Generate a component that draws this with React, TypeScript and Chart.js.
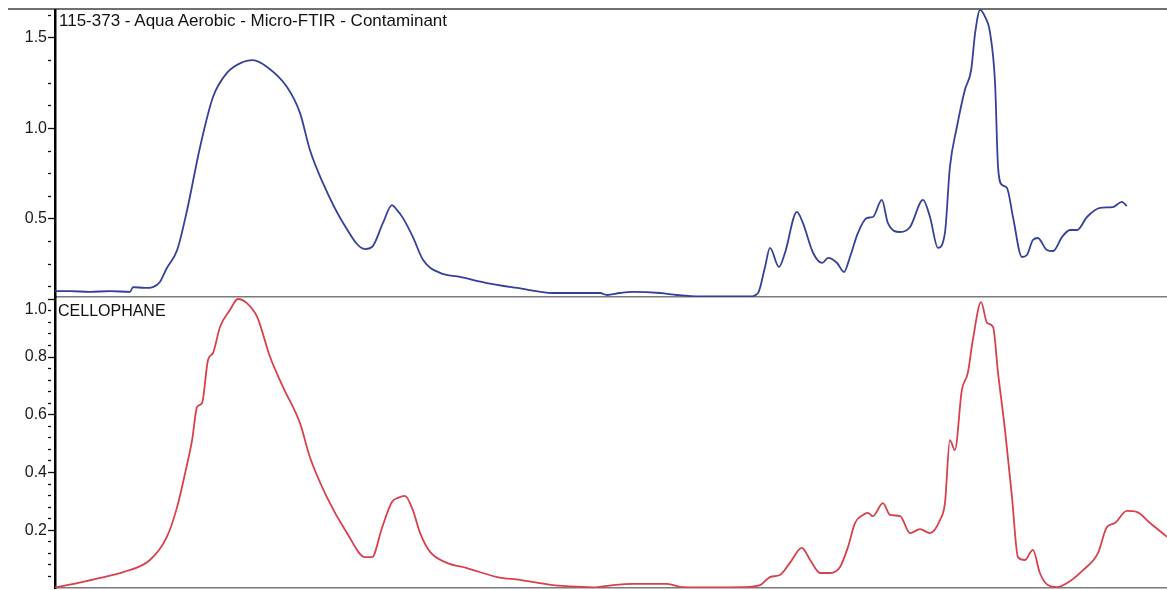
import React, { useEffect, useRef } from 'react';
import { Chart, registerables } from 'chart.js';

Chart.register(...registerables);

// ---- Data (wavenumber cm-1, absorbance) ----
const sampleTitle = '115-373 - Aqua Aerobic - Micro-FTIR - Contaminant';
const referenceTitle = 'CELLOPHANE';

const sampleWavenumbers = [
  4000, 3955, 3895, 3834, 3774, 3765, 3729, 3705, 3684, 3663,
  3632, 3602, 3563, 3524, 3482, 3434, 3404, 3361, 3301, 3262,
  3232, 3193, 3132, 3066, 3045, 3012, 2985, 2970, 2952, 2922,
  2891, 2840, 2780, 2699, 2608, 2500, 2358, 2337, 2298, 2259,
  2177, 2126, 2057, 1906, 1882, 1861, 1846, 1819, 1801, 1765,
  1747, 1716, 1689, 1671, 1644, 1623, 1605, 1581, 1554, 1536,
  1509, 1491, 1454, 1424, 1385, 1364, 1340, 1319, 1304, 1283,
  1259, 1240, 1228, 1213, 1198, 1183, 1168, 1159, 1147, 1132,
  1114, 1087, 1072, 1054, 1039, 1012, 993, 966, 942, 921,
  891, 852, 813, 786, 771,
];
const sampleAbsorbance = [
  0.102, 0.102, 0.097, 0.102, 0.097, 0.124, 0.119, 0.124, 0.152, 0.229,
  0.329, 0.550, 0.898, 1.174, 1.307, 1.367, 1.378, 1.340, 1.229, 1.086,
  0.881, 0.699, 0.478, 0.334, 0.345, 0.478, 0.577, 0.550, 0.506, 0.401,
  0.273, 0.202, 0.180, 0.146, 0.119, 0.091, 0.091, 0.080, 0.091, 0.097,
  0.091, 0.080, 0.072, 0.072, 0.091, 0.235, 0.340, 0.235, 0.312, 0.539,
  0.478, 0.312, 0.257, 0.285, 0.257, 0.207, 0.290, 0.423, 0.506, 0.511,
  0.605, 0.478, 0.428, 0.456, 0.605, 0.511, 0.340, 0.423, 0.787, 1.008,
  1.213, 1.323, 1.528, 1.655, 1.616, 1.528, 1.251, 0.787, 0.688, 0.671,
  0.511, 0.290, 0.301, 0.384, 0.395, 0.329, 0.323, 0.401, 0.439, 0.439,
  0.511, 0.561, 0.566, 0.594, 0.572,
];

const referenceWavenumbers = [
  4000, 3994, 3916, 3864, 3795, 3714, 3663, 3632, 3608, 3587,
  3572, 3557, 3539, 3524, 3503, 3473, 3449, 3422, 3391, 3352,
  3313, 3262, 3232, 3181, 3120, 3066, 3045, 3015, 2985, 2967,
  2946, 2922, 2900, 2870, 2819, 2759, 2668, 2599, 2500, 2397,
  2379, 2319, 2259, 2156, 2108, 2006, 1927, 1876, 1846, 1816,
  1786, 1750, 1725, 1695, 1665, 1635, 1611, 1590, 1566, 1551,
  1536, 1506, 1484, 1454, 1424, 1394, 1364, 1334, 1319, 1304,
  1289, 1268, 1250, 1235, 1210, 1192, 1174, 1159, 1138, 1117,
  1099, 1078, 1054, 1033, 1009, 981, 951, 903, 858, 831,
  807, 771, 740, 701, 650,
];
const referenceAbsorbance = [
  0.002, 0.003, 0.021, 0.035, 0.055, 0.097, 0.177, 0.281, 0.398, 0.512,
  0.627, 0.641, 0.790, 0.814, 0.904, 0.963, 1.001, 0.987, 0.939, 0.800,
  0.696, 0.571, 0.453, 0.315, 0.190, 0.107, 0.107, 0.208, 0.298, 0.312,
  0.319, 0.270, 0.190, 0.125, 0.087, 0.069, 0.038, 0.028, 0.010, 0.003,
  0.002, 0.010, 0.014, 0.014, 0.003, 0.002, 0.003, 0.010, 0.038, 0.045,
  0.087, 0.139, 0.097, 0.052, 0.052, 0.073, 0.142, 0.225, 0.253, 0.260,
  0.249, 0.294, 0.253, 0.249, 0.190, 0.204, 0.190, 0.235, 0.294, 0.512,
  0.478, 0.686, 0.745, 0.859, 0.990, 0.918, 0.904, 0.745, 0.547, 0.315,
  0.107, 0.097, 0.132, 0.052, 0.010, 0.003, 0.017, 0.062, 0.121, 0.211,
  0.225, 0.267, 0.263, 0.225, 0.177,
];

const sampleMajorTicks = [0.5, 1.0, 1.5];
const sampleMinorStep = 0.125;
const referenceMajorTicks = [0.2, 0.4, 0.6, 0.8, 1.0];
const referenceMinorStep = 0.04;

const FONT = '"Liberation Sans", Arial, Helvetica, sans-serif';

type PanelCfg = {
  xs: number[];
  ys: number[];
  color: string;
  yMin: number;
  yMax: number;
  majors: number[];
  minorStep: number;
  xAxisHeight: number;
  shiftTopLabel: boolean;
};

function buildTicks(min: number, max: number, step: number) {
  const out: number[] = [];
  for (let k = 1; k * step <= max + 1e-9; k++) {
    const v = Math.round(k * step * 1000) / 1000;
    if (v >= min - 1e-9) out.push(v);
  }
  return out;
}

function Panel(props: PanelCfg & { style: React.CSSProperties; width: number; height: number }) {
  const ref = useRef<HTMLCanvasElement | null>(null);
  useEffect(() => {
    if (!ref.current) return;
    const { xs, ys, color, yMin, yMax, majors, minorStep, xAxisHeight, shiftTopLabel } = props;
    const isMajor = (v: number) => majors.some((m) => Math.abs(m - v) < 1e-6);
    const topMajor = Math.max(...majors);
    const tickVals = buildTicks(yMin, yMax, minorStep);
    const chart = new Chart(ref.current, {
      type: 'line',
      data: {
        datasets: [
          {
            data: xs.map((x, i) => ({ x, y: ys[i] })),
            borderColor: color,
            borderWidth: 1.8,
            pointRadius: 0,
            fill: false,
            cubicInterpolationMode: 'monotone',
          },
        ],
      },
      options: {
        responsive: false,
        animation: false,
        events: [],
        layout: { padding: 0 },
        plugins: { legend: { display: false }, tooltip: { enabled: false }, title: { display: false } },
        scales: {
          x: {
            type: 'linear',
            reverse: true,
            min: 650,
            max: 4000,
            ticks: { display: false },
            grid: { display: false, drawTicks: false },
            border: { display: true, color: '#7a7a7a', width: 1.5 },
            afterFit: (s: any) => {
              s.height = xAxisHeight;
            },
          },
          y: {
            type: 'linear',
            min: yMin,
            max: yMax,
            afterBuildTicks: (s: any) => {
              s.ticks = tickVals.map((v) => ({ value: v }));
            },
            afterFit: (s: any) => {
              s.width = 55;
              s.paddingTop = 0;
              s.paddingBottom = 0;
            },
            ticks: {
              autoSkip: false,
              padding: 1,
              color: '#1a1a1a',
              font: { family: FONT, size: 16, lineHeight: 1.25 },
              callback: (value: any) => {
                const v = Number(value);
                if (!isMajor(v)) return '';
                const txt = v.toFixed(1);
                if (shiftTopLabel && Math.abs(v - topMajor) < 1e-6) return ['', txt];
                return txt;
              },
            },
            grid: {
              drawOnChartArea: false,
              drawTicks: true,
              tickLength: 7,
              tickColor: '#111',
              tickWidth: 1.3,
              tickBorderDash: (ctx: any) => (ctx.tick && isMajor(ctx.tick.value) ? [] : [3, 20]),
            },
            border: { display: true, color: '#000', width: 2.5 },
          },
        },
      } as any,
    });
    return () => chart.destroy();
  }, []);
  return <canvas ref={ref} width={props.width} height={props.height} style={props.style} />;
}

export default function App() {
  return (
    <div
      style={{
        position: 'absolute',
        left: 0,
        top: 0,
        width: 1167,
        height: 590,
        overflow: 'hidden',
        background: '#fff',
      }}
    >
      <div style={{ position: 'absolute', left: 8, top: 8, width: 1159, height: 2, background: '#707070' }} />
      <Panel
        xs={sampleWavenumbers}
        ys={sampleAbsorbance}
        color="#34409a"
        yMin={0.069}
        yMax={1.66}
        majors={sampleMajorTicks}
        minorStep={sampleMinorStep}
        xAxisHeight={1}
        shiftTopLabel={false}
        width={1167}
        height={289}
        style={{ position: 'absolute', left: 0, top: 9, display: 'block' }}
      />
      <Panel
        xs={referenceWavenumbers}
        ys={referenceAbsorbance}
        color="#d8404c"
        yMin={0}
        yMax={1.008}
        majors={referenceMajorTicks}
        minorStep={referenceMinorStep}
        xAxisHeight={2}
        shiftTopLabel={true}
        width={1167}
        height={293}
        style={{ position: 'absolute', left: 0, top: 297, display: 'block' }}
      />
      <div
        style={{
          position: 'absolute',
          left: 59,
          top: 11.5,
          fontFamily: FONT,
          fontSize: 17,
          lineHeight: '17px',
          color: '#111',
          whiteSpace: 'nowrap',
        }}
      >
        {sampleTitle}
      </div>
      <div
        style={{
          position: 'absolute',
          left: 58,
          top: 302.5,
          fontFamily: FONT,
          fontSize: 16,
          lineHeight: '16px',
          color: '#111',
          whiteSpace: 'nowrap',
        }}
      >
        {referenceTitle}
      </div>
    </div>
  );
}
